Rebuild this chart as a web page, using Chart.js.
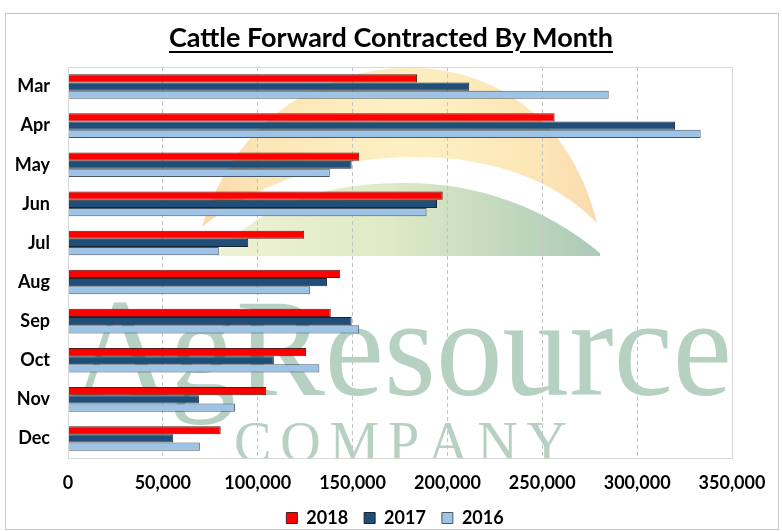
<!DOCTYPE html>
<html>
<head>
<meta charset="utf-8">
<script src="https://cdn.jsdelivr.net/npm/chart.js@4.4.1/dist/chart.umd.min.js"></script>
<style>
	body { margin: 0; background: #fff; }
	#wrap { position: relative; width: 782px; height: 531px; overflow: hidden; }
	#title {
		position: absolute; left: 0; top: 23px; width: 782px;
		text-align: center; font: bold 27px/27px Lato, sans-serif; color: #000;
		text-decoration: underline; text-decoration-thickness: 2px; text-underline-offset: 4px;
	}
</style>
</head>
<body>
<div id="wrap">
	<canvas id="myChart" width="782" height="537"></canvas>
	<div id="title">Cattle Forward Contracted By Month</div>
</div>
<script>
// values
var months = ['Mar', 'Apr', 'May', 'Jun', 'Jul', 'Aug', 'Sep', 'Oct', 'Nov', 'Dec'];
var series2018 = [184000, 256500, 153500, 197500, 124500, 143500, 138500, 125500, 104500, 80500];
var series2017 = [211500, 320000, 149500, 194500, 95000, 136500, 149500, 108500, 69000, 55500];
var series2016 = [285000, 333500, 138000, 189000, 79500, 127500, 153500, 132500, 88000, 69500];
var xTicks = [0, 50000, 100000, 150000, 200000, 250000, 300000, 350000];

// faint logo behind the plot
var watermark = {
	id: 'watermark',
	beforeDraw: function(chart) {
		var ctx = chart.ctx, a = chart.chartArea;
		ctx.save();
		ctx.beginPath();
		ctx.rect(a.left, a.top, a.right - a.left, a.bottom - a.top);
		ctx.clip();

		// sun
		var g = ctx.createRadialGradient(405, 110, 10, 400, 200, 230);
		g.addColorStop(0, '#fdf1c4');
		g.addColorStop(0.6, '#fce5b6');
		g.addColorStop(1, '#f9d4a8');
		ctx.fillStyle = g;
		ctx.beginPath();
		ctx.moveTo(202, 227);
		ctx.bezierCurveTo(235, 120, 320, 68, 410, 68);
		ctx.bezierCurveTo(505, 68, 575, 130, 597, 223);
		ctx.bezierCurveTo(560, 185, 500, 157, 415, 157);
		ctx.bezierCurveTo(330, 157, 255, 185, 202, 227);
		ctx.closePath();
		ctx.fill();

		// hill
		var h = ctx.createLinearGradient(215, 0, 600, 0);
		h.addColorStop(0, '#eef2d4');
		h.addColorStop(0.45, '#dfeac6');
		h.addColorStop(1, '#abcab8');
		ctx.fillStyle = h;
		ctx.beginPath();
		ctx.moveTo(215, 256);
		ctx.bezierCurveTo(268, 196, 340, 183, 405, 183);
		ctx.bezierCurveTo(480, 183, 545, 208, 600, 253);
		ctx.lineTo(600, 256);
		ctx.closePath();
		ctx.fill();

		// text
		ctx.fillStyle = '#b6d1c2';
		ctx.textBaseline = 'alphabetic';
		ctx.font = '140px "Liberation Serif", serif';
		var w = ctx.measureText('AgResource').width;
		ctx.save();
		ctx.translate(73, 395);
		ctx.scale(659 / w, 1);
		ctx.fillText('AgResource', 0, 0);
		ctx.restore();

		ctx.font = '56px "Liberation Serif", serif';
		var letters = 'COMPANY'.split('');
		var total = 0;
		letters.forEach(function(c) { total += ctx.measureText(c).width; });
		var gap = (333 - total) / (letters.length - 1);
		var x = 234;
		letters.forEach(function(c) {
			ctx.fillText(c, x, 461);
			x += ctx.measureText(c).width + gap;
		});
		ctx.restore();
	}
};

// plot box and outer frame
var frame = {
	id: 'frame',
	afterLayout: function(chart) {
		// centre the legend under the whole picture, not just the plot
		var lg = chart.legend;
		var shift = 395 - (lg.left + lg.right) / 2;
		lg.left += shift;
		lg.right += shift;
	},
	afterDraw: function(chart) {
		var ctx = chart.ctx, a = chart.chartArea;
		ctx.save();
		ctx.strokeStyle = '#d9d9d9';
		ctx.lineWidth = 1;
		ctx.strokeRect(Math.round(a.left) + 0.5, Math.round(a.top) + 0.5, Math.round(a.right - a.left), Math.round(a.bottom - a.top));
		ctx.strokeStyle = '#c8c8c8';
		ctx.strokeRect(5.5, 13.5, 773, 516);
		ctx.restore();
	}
};

var ctx = document.getElementById('myChart').getContext('2d');
var chart = new Chart(ctx, {
	type: 'bar',
	data: {
		labels: months,
		datasets: [{
			label: '2018',
			data: series2018,
			backgroundColor: '#ff0000',
			borderColor: '#5a1a1a',
			borderWidth: 1
		}, {
			label: '2017',
			data: series2017,
			backgroundColor: '#1f4e79',
			borderColor: '#1a2430',
			borderWidth: 1
		}, {
			label: '2016',
			data: series2016,
			backgroundColor: '#9dc3e6',
			borderColor: '#4a5866',
			borderWidth: 1
		}]
	},
	options: {
		indexAxis: 'y',
		responsive: false,
		animation: false,
		categoryPercentage: 0.63,
		barPercentage: 1.0,
		layout: { padding: { top: 67, right: 50, left: 0, bottom: 0 } },
		scales: {
			x: {
				min: 0,
				max: 350000,
				afterBuildTicks: function(scale) {
					scale.ticks = xTicks.map(function(v) { return { value: v }; });
				},
				afterFit: function(scale) { scale.height = 35; },
				grid: { color: '#c4c4c4', drawTicks: false },
				border: { display: false, dash: [4, 3] },
				ticks: {
					padding: 14,
					color: '#000',
					font: { family: 'Lato', weight: 'bold', size: 18 },
					callback: function(v) { return Number(v).toLocaleString('en-US'); }
				}
			},
			y: {
				afterFit: function(scale) { scale.width = 68; },
				grid: { display: false, drawTicks: false },
				border: { display: true, color: '#d9d9d9' },
				ticks: {
					padding: 18,
					color: '#000',
					font: { family: 'Lato', weight: 'bold', size: 18 }
				}
			}
		},
		plugins: {
			legend: {
				position: 'bottom',
				labels: {
					boxWidth: 11,
					boxHeight: 11,
					padding: 16,
					color: '#000',
					font: { family: 'Lato', weight: 'bold', size: 18 }
				}
			},
			tooltip: { enabled: false }
		}
	},
	plugins: [watermark, frame]
});
</script>
</body>
</html>
